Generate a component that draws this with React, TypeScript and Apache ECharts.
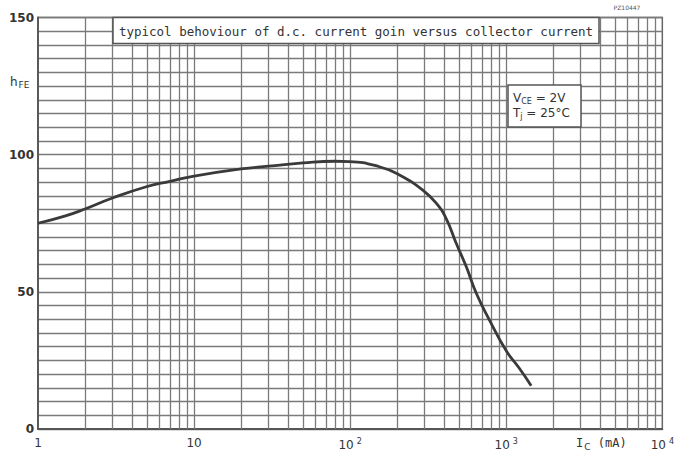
import React, { useEffect, useRef } from "react";
import * as echarts from "echarts";

// Collector current I_C (mA) and d.c. current gain h_FE
const currentMA = [1, 1.5, 2, 3, 5, 7, 10, 20, 30, 50, 80, 99, 154, 207, 292, 356, 413, 478, 554, 643, 781, 1000, 1200, 1445];
const hFE = [75, 77.7, 80.2, 84.2, 88.4, 90.3, 92.2, 94.8, 95.8, 97, 97.6, 97.5, 95.6, 92.6, 87.1, 82.3, 76.6, 67.7, 59.2, 49.5, 39.7, 28.5, 22.5, 15.8];

const yTickLabels = [0, 50, 100, 150];
const decades = [1, 10, 100, 1000];
const mantissas = [1, 2, 3, 4, 5, 6, 7, 8, 9];

const titleText = "typicol behoviour of d.c. current goin versus collector current";
const drawingNo = "PZ10447";

const GRID = "#7a7a7a";
const INK = "#333333";
const FONT = "'DejaVu Sans', 'Liberation Sans', sans-serif";
const MONO = "'DejaVu Sans Mono', 'Liberation Mono', monospace";

export default function App() {
  const ref = useRef<HTMLDivElement>(null);

  useEffect(() => {
    if (!ref.current) return;
    const chart = echarts.init(ref.current, undefined, { renderer: "svg" });

    const vLines: { xAxis: number }[] = [];
    decades.forEach((d) => mantissas.forEach((m) => {
      const v = m * d;
      if (v > 1) vLines.push({ xAxis: v });
    }));

    const sup = (v: number) => {
      if (v === 1) return "1";
      if (v === 10) return "10";
      const e = Math.round(Math.log10(v));
      return "10{s|" + e + "}";
    };

    chart.setOption({
      animation: false,
      backgroundColor: "#ffffff",
      grid: {
        left: 38,
        right: 14,
        top: 17.5,
        bottom: 22,
        show: true,
        borderColor: "#666666",
        borderWidth: 1.5,
        backgroundColor: "#ffffff",
      },
      xAxis: {
        type: "log",
        logBase: 10,
        min: 1,
        max: 10000,
        axisLine: { show: true, lineStyle: { color: "#555555", width: 1.8 } },
        axisTick: { show: false },
        splitLine: { show: false },
        minorTick: { show: false },
        axisLabel: {
          margin: 8,
          fontFamily: FONT,
          fontSize: 12,
          color: INK,
          formatter: (v: number) => sup(v),
          rich: {
            s: { fontSize: 8, verticalAlign: "top", padding: [0, 0, 8, 3], color: INK, fontFamily: FONT },
          },
        },
      },
      yAxis: {
        type: "value",
        min: 0,
        max: 150,
        interval: 5,
        axisLine: { show: true, lineStyle: { color: "#555555", width: 1.8 } },
        axisTick: { show: false },
        splitLine: { show: true, lineStyle: { color: GRID, width: 1.3 } },
        axisLabel: {
          margin: 4,
          fontFamily: FONT,
          fontSize: 12,
          fontWeight: "bold",
          color: INK,
          formatter: (v: number) => (yTickLabels.indexOf(v) >= 0 ? String(v) : ""),
        },
      },
      series: [
        {
          type: "line",
          data: [],
          z: 1,
          silent: true,
          markLine: {
            silent: true,
            symbol: ["none", "none"],
            animation: false,
            label: { show: false },
            lineStyle: { color: GRID, width: 1.3, type: "solid" },
            data: vLines,
          },
        },
        {
          type: "line",
          z: 5,
          data: currentMA.map((x, i) => [x, hFE[i]]),
          smooth: 0.5,
          showSymbol: false,
          symbol: "none",
          lineStyle: { color: "#3a3a3a", width: 2.8 },
        },
      ],
      graphic: [
        {
          type: "rect",
          z: 100,
          shape: { x: 113, y: 17.5, width: 486, height: 26 },
          style: { fill: "#ffffff", stroke: "#555555", lineWidth: 1.5 },
        },
        {
          type: "text",
          z: 101,
          x: 356,
          y: 31,
          style: {
            text: titleText,
            fill: INK,
            font: "12.5px " + MONO,
            align: "center",
            verticalAlign: "middle",
          },
        },
        {
          type: "rect",
          z: 100,
          shape: { x: 508, y: 85, width: 73, height: 42 },
          style: { fill: "#ffffff", stroke: "#555555", lineWidth: 1.5 },
        },
        {
          type: "text",
          z: 101,
          x: 513,
          y: 98,
          style: {
            text: "{a|V}{s|CE}{a| = 2V}",
            verticalAlign: "middle",
            rich: {
              a: { fontSize: 12, fontFamily: FONT, fill: INK },
              s: { fontSize: 8, fontFamily: FONT, fill: INK, padding: [6, 0, 0, 0] },
            },
          },
        },
        {
          type: "text",
          z: 101,
          x: 513,
          y: 113,
          style: {
            text: "{a|T}{s|j}{a| = 25°C}",
            verticalAlign: "middle",
            rich: {
              a: { fontSize: 12, fontFamily: FONT, fill: INK },
              s: { fontSize: 8, fontFamily: FONT, fill: INK, padding: [6, 0, 0, 0] },
            },
          },
        },
        {
          type: "text",
          z: 101,
          x: 10,
          y: 82,
          style: {
            text: "{a|h}{s|FE}",
            verticalAlign: "middle",
            rich: {
              a: { fontSize: 12, fontFamily: FONT, fill: INK },
              s: { fontSize: 9, fontFamily: FONT, fill: INK, padding: [6, 0, 0, 1] },
            },
          },
        },
        {
          type: "text",
          z: 101,
          x: 576,
          y: 443,
          style: {
            text: "{a|I}{s|C}{a| (mA)}",
            verticalAlign: "middle",
            rich: {
              a: { fontSize: 12, fontFamily: MONO, fill: INK },
              s: { fontSize: 9, fontFamily: FONT, fill: INK, padding: [7, 0, 0, 1] },
            },
          },
        },
        {
          type: "text",
          z: 101,
          x: 627,
          y: 7,
          style: {
            text: drawingNo,
            fill: "#555555",
            font: "6px " + FONT,
            align: "center",
            verticalAlign: "middle",
          },
        },
      ],
    });

    return () => chart.dispose();
  }, []);

  return (
    <div
      ref={ref}
      style={{ position: "absolute", left: 0, top: 0, width: 677, height: 451 }}
    />
  );
}
